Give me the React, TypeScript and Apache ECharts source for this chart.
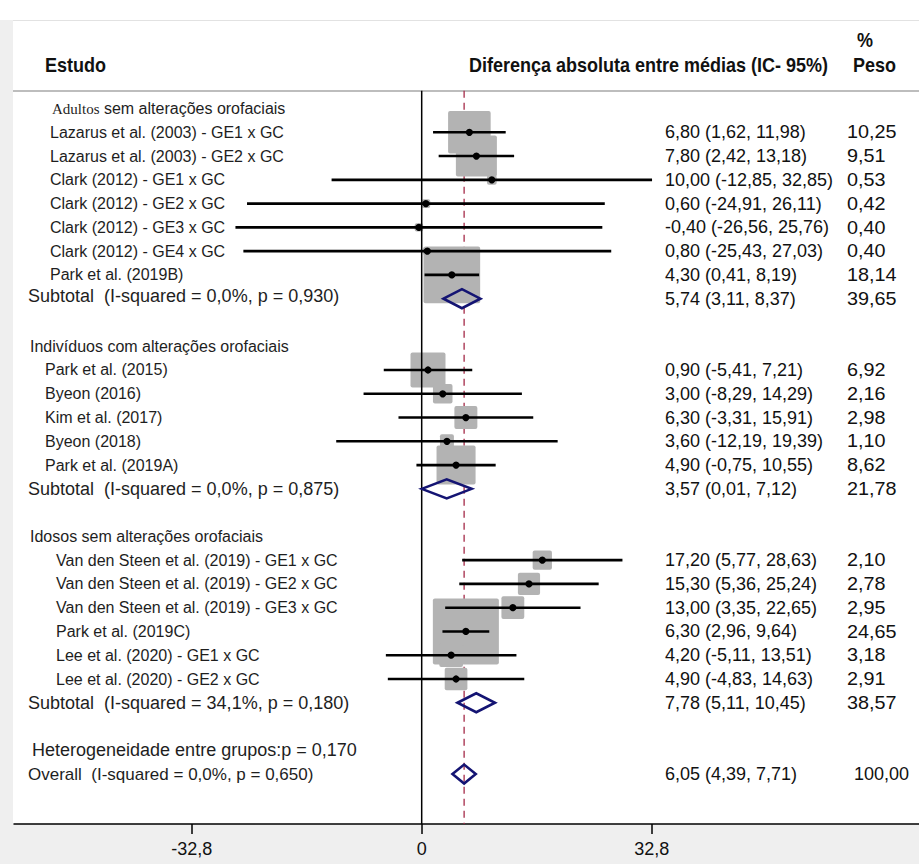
import React, { useEffect, useRef } from 'react';
import * as echarts from 'echarts';

// ---------- data ----------
const rowLabels = [
  'Adultos sem alterações orofaciais',
  'Lazarus et al. (2003) - GE1 x GC',
  'Lazarus et al. (2003) - GE2 x GC',
  'Clark (2012) - GE1 x GC',
  'Clark (2012) - GE2 x GC',
  'Clark (2012) - GE3 x GC',
  'Clark (2012) - GE4 x GC',
  'Park et al. (2019B)',
  'Subtotal  (I-squared = 0,0%, p = 0,930)',
  '',
  'Indivíduos com alterações orofaciais',
  'Park et al. (2015)',
  'Byeon (2016)',
  'Kim et al. (2017)',
  'Byeon (2018)',
  'Park et al. (2019A)',
  'Subtotal  (I-squared = 0,0%, p = 0,875)',
  '',
  'Idosos sem alterações orofaciais',
  'Van den Steen et al. (2019) - GE1 x GC',
  'Van den Steen et al. (2019) - GE2 x GC',
  'Van den Steen et al. (2019) - GE3 x GC',
  'Park et al. (2019C)',
  'Lee et al. (2020) - GE1 x GC',
  'Lee et al. (2020) - GE2 x GC',
  'Subtotal  (I-squared = 34,1%, p = 0,180)',
  '',
  'Heterogeneidade entre grupos:p = 0,170',
  'Overall  (I-squared = 0,0%, p = 0,650)',
];

const rowTypes = [
  'group', 'study', 'study', 'study', 'study', 'study', 'study', 'study', 'subtotal', 'blank',
  'group', 'study', 'study', 'study', 'study', 'study', 'subtotal', 'blank',
  'group', 'study', 'study', 'study', 'study', 'study', 'study', 'subtotal', 'blank',
  'note', 'overall',
];

const estimates = [
  null, 6.8, 7.8, 10.0, 0.6, -0.4, 0.8, 4.3, 5.74, null,
  null, 0.9, 3.0, 6.3, 3.6, 4.9, 3.57, null,
  null, 17.2, 15.3, 13.0, 6.3, 4.2, 4.9, 7.78, null,
  null, 6.05,
];

const ciLower = [
  null, 1.62, 2.42, -12.85, -24.91, -26.56, -25.43, 0.41, 3.11, null,
  null, -5.41, -8.29, -3.31, -12.19, -0.75, 0.01, null,
  null, 5.77, 5.36, 3.35, 2.96, -5.11, -4.83, 5.11, null,
  null, 4.39,
];

const ciUpper = [
  null, 11.98, 13.18, 32.85, 26.11, 25.76, 27.03, 8.19, 8.37, null,
  null, 7.21, 14.29, 15.91, 19.39, 10.55, 7.12, null,
  null, 28.63, 25.24, 22.65, 9.64, 13.51, 14.63, 10.45, null,
  null, 7.71,
];

const weights = [
  null, 10.25, 9.51, 0.53, 0.42, 0.4, 0.4, 18.14, 39.65, null,
  null, 6.92, 2.16, 2.98, 1.1, 8.62, 21.78, null,
  null, 2.1, 2.78, 2.95, 24.65, 3.18, 2.91, 38.57, null,
  null, 100.0,
];

const tickValues = [-32.8, 0, 32.8];

const headerStudy = 'Estudo';
const headerEffect = 'Diferença absoluta entre médias (IC- 95%)';
const headerPct = '%';
const headerWeight = 'Peso';

// ---------- layout constants ----------
const FONT = '"Liberation Sans", Arial, Helvetica, sans-serif';
const SERIF = '"Liberation Serif", "Times New Roman", serif';
const X_MIN = -58.14;
const X_MAX = 70.92;
const Y_MIN = -0.75;
const Y_MAX = 30.1;
const BOX_K = 13.3;
const DIAMOND_HALF = 9.5;
const EFFECT_X = 665;
const WEIGHT_X = 847;
const GROUP_X = [52, 30, 30];
const STUDY_X = [50, 45, 56];
const LABEL_DY: Record<number, number> = { 8: -3 };

const fmt = (v: number) => v.toFixed(2).replace('.', ',');
const sectionOf = (i: number) => (i < 9 ? 0 : i < 17 ? 1 : 2);

export default function App() {
  const ref = useRef<HTMLDivElement>(null);

  useEffect(() => {
    const chart = echarts.init(ref.current!, null, { renderer: 'svg' });
    const data = rowLabels.map((_, i) => [estimates[i] ?? 0, i]);
    const overall = estimates[rowTypes.indexOf('overall')] as number;

    const boxRender = (params: any, api: any) => {
      const i = params.dataIndex;
      if (rowTypes[i] !== 'study') return null;
      const p = api.coord([estimates[i], i]);
      const s = BOX_K * Math.sqrt(weights[i] as number);
      return {
        type: 'rect',
        shape: { x: p[0] - s / 2, y: p[1] - s / 2, width: s, height: s, r: 2 },
        style: { fill: '#b3b3b3' },
      };
    };

    const mainRender = (params: any, api: any) => {
      const i = params.dataIndex;
      const kind = rowTypes[i];
      const children: any[] = [];
      const cy = api.coord([0, i])[1];
      const est = estimates[i];
      const lo = ciLower[i];
      const hi = ciUpper[i];
      const w = weights[i];

      if (kind === 'study' && est != null && lo != null && hi != null) {
        const p = api.coord([est, i]);
        const a = api.coord([lo, i]);
        const b = api.coord([hi, i]);
        children.push({
          type: 'line',
          shape: { x1: a[0], y1: cy, x2: b[0], y2: cy },
          style: { stroke: '#000', lineWidth: 2.6 },
        });
        children.push({
          type: 'circle',
          shape: { cx: p[0], cy, r: 3.6 },
          style: { fill: '#000' },
        });
      } else if ((kind === 'subtotal' || kind === 'overall') && est != null && lo != null && hi != null) {
        const p = api.coord([est, i]);
        const a = api.coord([lo, i]);
        const b = api.coord([hi, i]);
        children.push({
          type: 'polygon',
          shape: {
            points: [
              [a[0], cy],
              [p[0], cy - DIAMOND_HALF],
              [b[0], cy],
              [p[0], cy + DIAMOND_HALF],
            ],
          },
          style: { stroke: '#141473', fill: 'none', lineWidth: 2.6 },
        });
      }

      // left label
      const label = rowLabels[i];
      if (label) {
        const sec = sectionOf(i);
        let x = 28;
        let fontSize = 16;
        if (kind === 'group') x = GROUP_X[sec];
        else if (kind === 'study') x = STUDY_X[sec];
        else if (kind === 'subtotal') { x = 28; fontSize = 18; }
        else if (kind === 'note') { x = 32; fontSize = 18; }
        else if (kind === 'overall') { x = 28; fontSize = 17; }
        const y = cy + (LABEL_DY[i] || 0);
        if (kind === 'group' && sec === 0) {
          const sp = label.indexOf(' ');
          children.push({
            type: 'text',
            x,
            y,
            style: {
              text: `{s|${label.slice(0, sp)}}${label.slice(sp)}`,
              fill: '#1e1e1e',
              fontSize: 16,
              fontFamily: FONT,
              align: 'left',
              verticalAlign: 'middle',
              rich: {
                s: { fontFamily: SERIF, fontSize: 15, fill: '#1e1e1e' },
              },
            },
          });
        } else {
          children.push({
            type: 'text',
            x,
            y,
            style: {
              text: label,
              fill: '#1e1e1e',
              fontSize,
              fontFamily: FONT,
              align: 'left',
              verticalAlign: 'middle',
            },
          });
        }
      }

      // right columns
      if (est != null && lo != null && hi != null && w != null) {
        children.push({
          type: 'text',
          x: EFFECT_X,
          y: cy,
          style: {
            text: `${fmt(est)} (${fmt(lo)}, ${fmt(hi)})`,
            fill: '#111',
            fontSize: 18,
            fontFamily: FONT,
            align: 'left',
            verticalAlign: 'middle',
          },
        });
        const isOverall = kind === 'overall';
        children.push({
          type: 'text',
          x: isOverall ? WEIGHT_X + 7 : WEIGHT_X,
          y: cy,
          scaleX: isOverall ? 1 : 1.1,
          style: {
            text: fmt(w),
            fill: '#111',
            fontSize: 18,
            fontFamily: FONT,
            align: 'left',
            verticalAlign: 'middle',
          },
        });
      }
      return { type: 'group', children };
    };

    const headerStyle = (text: string) => ({
      text,
      fill: '#111',
      fontSize: 20,
      fontWeight: 'bold',
      fontFamily: FONT,
      align: 'left',
      verticalAlign: 'middle',
    });

    const option: any = {
      animation: false,
      backgroundColor: '#ffffff',
      grid: { left: 14, right: 0, top: 90.7, bottom: 40 },
      xAxis: {
        type: 'value',
        position: 'bottom',
        min: X_MIN,
        max: X_MAX,
        axisLine: { show: true, onZero: false, lineStyle: { color: '#000', width: 1.5 } },
        axisTick: { show: true, customValues: tickValues, length: 10, lineStyle: { color: '#000', width: 1.5 } },
        axisLabel: {
          customValues: tickValues,
          formatter: (v: number) => String(v).replace('.', ','),
          fontSize: 18,
          fontFamily: FONT,
          color: '#111',
          margin: 16,
        },
        splitLine: { show: false },
      },
      yAxis: { type: 'value', min: Y_MIN, max: Y_MAX, inverse: true, show: false },
      graphic: [
        { type: 'rect', z: -10, shape: { x: 0, y: 20, width: 13, height: 844 }, style: { fill: '#efefef' } },
        { type: 'rect', z: -10, shape: { x: 0, y: 824, width: 919, height: 40 }, style: { fill: '#efefef' } },
        { type: 'line', z: -9, shape: { x1: 13, y1: 20.5, x2: 919, y2: 20.5 }, style: { stroke: '#e2e2e2', lineWidth: 1 } },
        { type: 'line', z: -9, shape: { x1: 13, y1: 91, x2: 919, y2: 91 }, style: { stroke: '#bdbdbd', lineWidth: 2 } },
        { type: 'text', x: 45, y: 65, scaleX: 0.9, style: headerStyle(headerStudy) },
        { type: 'text', x: 469, y: 65, scaleX: 0.9, style: headerStyle(headerEffect) },
        { type: 'text', x: 857, y: 40, scaleX: 0.9, style: headerStyle(headerPct) },
        { type: 'text', x: 853, y: 65, scaleX: 0.9, style: headerStyle(headerWeight) },
      ],
      series: [
        {
          type: 'line',
          name: 'pooled',
          z: 1,
          silent: true,
          symbol: 'none',
          data: [[overall, Y_MIN], [overall, Y_MAX]],
          lineStyle: { color: '#a52a48', width: 1.3, type: [7, 5] },
        },
        {
          type: 'custom',
          name: 'boxes',
          z: 2,
          silent: true,
          data,
          encode: { x: 0, y: 1 },
          renderItem: boxRender,
        },
        {
          type: 'line',
          name: 'null',
          z: 3,
          silent: true,
          symbol: 'none',
          data: [[0, Y_MIN], [0, Y_MAX]],
          lineStyle: { color: '#000', width: 1.5 },
        },
        {
          type: 'custom',
          name: 'estimates',
          z: 4,
          silent: true,
          data,
          encode: { x: 0, y: 1 },
          renderItem: mainRender,
        },
      ],
    };

    chart.setOption(option);
    return () => chart.dispose();
  }, []);

  return <div ref={ref} style={{ position: 'fixed', left: 0, top: 0, width: 919, height: 864 }} />;
}
